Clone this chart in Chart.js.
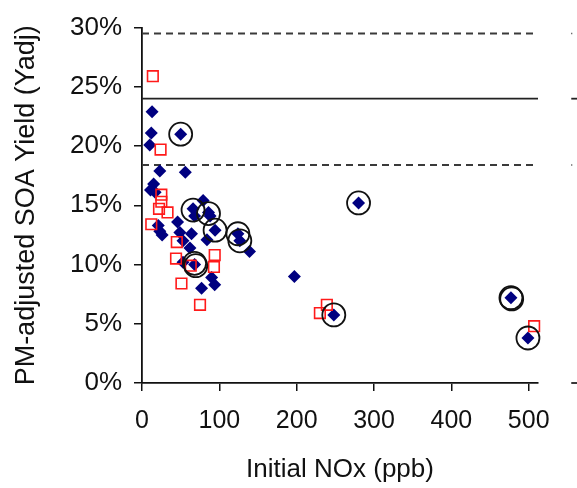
<!DOCTYPE html>
<html>
<head>
<meta charset="utf-8">
<script src="https://cdn.jsdelivr.net/npm/chart.js@4"></script>
<style>
html,body{margin:0;padding:0;background:#fff;}
#wrap{width:577px;height:488px;}
</style>
</head>
<body>
<div id="wrap"><canvas id="c" width="577" height="488"></canvas></div>
<script>
// Blue diamonds: initial NOx (ppb) and PM-adjusted SOA yield (%)
const blueNOx   = [13, 12, 10, 23, 56, 15, 11, 17, 21, 23, 26, 46, 49, 53, 64, 62, 53, 50, 66, 79, 86, 68, 88, 94.5, 84, 124, 126.5, 139, 68, 90, 94, 77, 197, 280, 248, 477, 499];
const blueYield = [22.9, 21.1, 20.1, 17.9, 17.8, 16.8, 16.3, 16.1, 13.3, 12.8, 12.5, 13.6, 12.7, 12.0, 12.6, 11.4, 10.2, 21.0, 14.7, 15.4, 14.4, 14.1, 14.1, 12.9, 12.1, 12.6, 12.0, 11.1, 10.0, 8.9, 8.3, 8.0, 9.0, 15.2, 5.75, 7.2, 3.8];
// Red open squares
const redNOx    = [14, 24, 25, 25, 22, 33, 12, 45, 44, 51, 75, 94, 93, 63, 239, 230, 507];
const redYield  = [25.9, 19.7, 15.9, 15.3, 14.7, 14.4, 13.4, 11.9, 10.5, 8.4, 6.6, 10.8, 9.8, 9.9, 6.6, 5.9, 4.8];
// Circled points
const circNOx   = [50, 66, 86, 94.5, 124, 126.5, 68, 69.5, 280, 248, 477, 478, 499];
const circYield = [21.0, 14.6, 14.3, 12.9, 12.6, 12.0, 10.1, 9.9, 15.2, 5.75, 7.2, 7.1, 3.8];
// Reference lines (%)
const dashedLines = [29.5, 18.4];
const solidLines  = [24];
// Axis ticks
const xTicks = [0, 100, 200, 300, 400, 500];
const yTicks = [0, 5, 10, 15, 20, 25, 30];
const xMax = 512;
const stubFrom = 555, stubTo = 575;

const pts = (xs, ys) => xs.map((x, i) => ({x: x, y: ys[i]}));
const FONT = "'Liberation Sans', Arial, sans-serif";

const datasets = [];
dashedLines.forEach(v => {
  datasets.push({type:'line', data:[{x:0,y:v},{x:xMax,y:v}], borderColor:'#3a3a3a', borderWidth:2, borderDash:[7,5], pointRadius:0, order:10});
  datasets.push({type:'line', data:[{x:stubFrom,y:v},{x:stubTo,y:v}], borderColor:'#3a3a3a', borderWidth:1.5, borderDash:[1,20], pointRadius:0, clip:false, order:10});
});
solidLines.forEach(v => {
  datasets.push({type:'line', data:[{x:0,y:v},{x:xMax,y:v}], borderColor:'#222', borderWidth:1.8, pointRadius:0, order:10});
  datasets.push({type:'line', data:[{x:stubFrom,y:v},{x:stubTo,y:v}], borderColor:'#222', borderWidth:1.8, pointRadius:0, clip:false, order:10});
});
datasets.push({type:'line', data:[{x:stubFrom,y:0},{x:stubTo,y:0}], borderColor:'#222', borderWidth:1.8, pointRadius:0, clip:false, order:10});
datasets.push({type:'scatter', data:pts(blueNOx, blueYield), pointStyle:'rectRot', pointRadius:6.5, backgroundColor:'#000080', borderColor:'#000080', borderWidth:0, clip:false, order:5});
datasets.push({type:'scatter', data:pts(redNOx, redYield), pointStyle:'rect', pointRadius:7.5, backgroundColor:'rgba(0,0,0,0)', borderColor:'#ff1a1a', borderWidth:1.6, clip:false, order:4});
datasets.push({type:'scatter', data:pts(circNOx, circYield), pointStyle:'circle', pointRadius:11.5, backgroundColor:'rgba(0,0,0,0)', borderColor:'#111', borderWidth:1.8, clip:false, order:3});

new Chart(document.getElementById('c'), {
  type: 'scatter',
  data: { datasets: datasets },
  options: {
    responsive: false,
    animation: false,
    events: [],
    layout: { padding: { left: 0, right: 39, top: 23, bottom: 0 } },
    plugins: { legend: { display: false }, tooltip: { enabled: false } },
    scales: {
      x: {
        type: 'linear', min: 0, max: xMax,
        afterFit: s => { s.height = 105; },
        afterBuildTicks: s => { s.ticks = xTicks.map(v => ({value: v})); },
        ticks: { font: { family: FONT, size: 25 }, color: '#111', padding: 15, maxRotation: 0 },
        grid: { display: true, drawOnChartArea: false, drawTicks: true, tickLength: 8, color: '#111', lineWidth: 1.5 },
        border: { display: true, color: '#111', width: 1.8 },
        title: { display: true, text: 'Initial NOx (ppb)', font: { family: FONT, size: 26 }, color: '#111', padding: { top: 0, bottom: 3 } }
      },
      y: {
        type: 'linear', min: 0, max: 30,
        afterFit: s => { s.width = 142; },
        afterBuildTicks: s => { s.ticks = yTicks.map(v => ({value: v})); },
        ticks: { font: { family: FONT, size: 26 }, color: '#111', padding: 12, callback: v => v + '%' },
        grid: { display: true, drawOnChartArea: false, drawTicks: true, tickLength: 8, color: '#111', lineWidth: 1.5 },
        border: { display: true, color: '#111', width: 1.8 },
        title: { display: true, text: 'PM-adjusted SOA Yield (Yadj)', font: { family: FONT, size: 27 }, color: '#111', padding: { top: 10, bottom: 0 } }
      }
    }
  }
});
</script>
</body>
</html>
